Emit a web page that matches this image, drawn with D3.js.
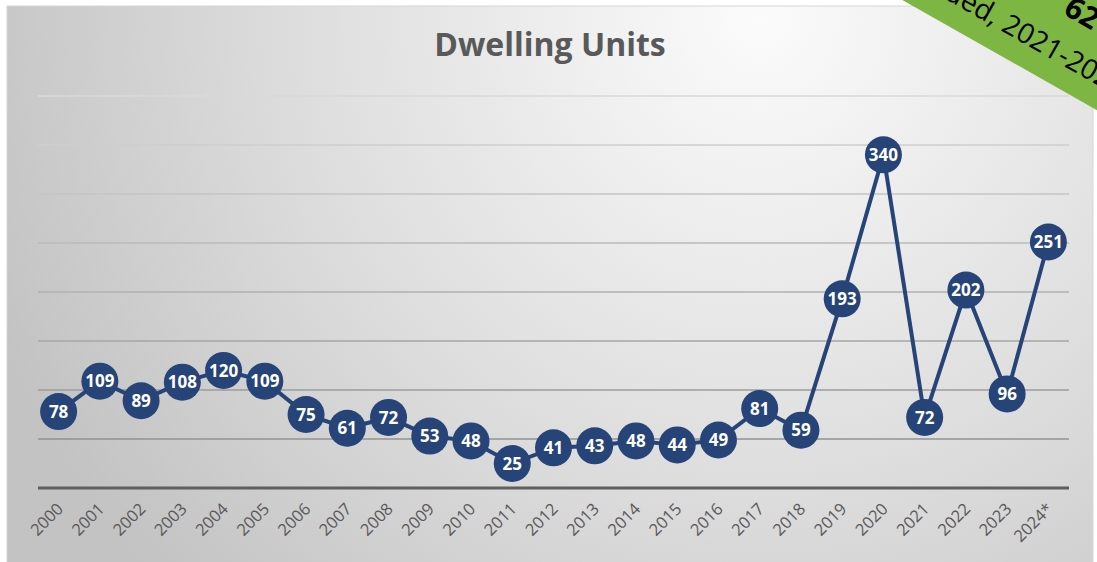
<!DOCTYPE html>
<html>
<head>
<meta charset="utf-8">
<script src="https://cdn.jsdelivr.net/npm/d3@7"></script>
<style>
  body { margin: 0; background: #fff; }
  svg { display: block; font-family: "Open Sans", sans-serif; }
</style>
</head>
<body>
<div id="chart"></div>
<script>
var years = ["2000", "2001", "2002", "2003", "2004", "2005", "2006", "2007", "2008", "2009",
    "2010", "2011", "2012", "2013", "2014", "2015", "2016", "2017", "2018", "2019",
    "2020", "2021", "2022", "2023", "2024*"];
var units = [78, 109, 89, 108, 120, 109, 75, 61, 72, 53,
    48, 25, 41, 43, 48, 44, 49, 81, 59, 193,
    340, 72, 202, 96, 251];
var gridTicks = [0, 50, 100, 150, 200, 250, 300, 350, 400];
var bannerBig = "621";
var bannerLead = "Units Added,";
var bannerRange = "2021-2024";

var width = 1097, height = 562;
var plot = { left: 38, right: 1069, top: 96, bottom: 488 };

var svg = d3.select("#chart").append("svg")
    .attr("width", width)
    .attr("height", height);

var defs = svg.append("defs");
var grad = defs.append("radialGradient")
    .attr("id", "panelGrad")
    .attr("gradientUnits", "userSpaceOnUse")
    .attr("cx", 760).attr("cy", 20).attr("r", 820);
grad.append("stop").attr("offset", "0%").attr("stop-color", "#fbfbfb");
grad.append("stop").attr("offset", "55%").attr("stop-color", "#dedede");
grad.append("stop").attr("offset", "100%").attr("stop-color", "#c3c3c3");

// chart panel
svg.append("rect")
    .attr("x", 7).attr("y", 6)
    .attr("width", 1086).attr("height", 560)
    .attr("fill", "url(#panelGrad)")
    .attr("stroke", "#d6d6d6")
    .attr("stroke-width", 1);

var x = d3.scalePoint()
    .domain(years)
    .range([plot.left, plot.right])
    .padding(0.5);

var y = d3.scaleLinear()
    .domain([0, 400])
    .range([plot.bottom, plot.top]);

// gridlines, lighter toward the top
var gridColor = d3.scaleLinear().domain([50, 400]).range(["#929292", "#d8d8d8"]);
svg.append("g").selectAll("line")
    .data(gridTicks.slice(1))
    .enter().append("line")
    .attr("x1", plot.left).attr("x2", plot.right)
    .attr("y1", function (d) { return y(d); })
    .attr("y2", function (d) { return y(d); })
    .attr("stroke", function (d) { return gridColor(d); })
    .attr("stroke-width", 1.5);

// baseline
svg.append("line")
    .attr("x1", plot.left).attr("x2", plot.right)
    .attr("y1", y(0)).attr("y2", y(0))
    .attr("stroke", "#5f5f5f")
    .attr("stroke-width", 3);

// x axis labels
var xAxis = d3.axisBottom(x).tickSize(0).tickPadding(0);
var gx = svg.append("g")
    .attr("transform", "translate(0," + y(0) + ")")
    .call(xAxis);
gx.select(".domain").remove();
gx.selectAll("text")
    .attr("fill", "#595959")
    .style("font-size", "16.5px")
    .style("font-family", "'Open Sans', sans-serif")
    .attr("text-anchor", "end")
    .attr("dy", 0)
    .attr("y", 0)
    .attr("transform", "translate(5,22) rotate(-45)");

// title
svg.append("text")
    .attr("x", 550).attr("y", 56)
    .attr("text-anchor", "middle")
    .attr("fill", "#595959")
    .style("font-size", "32px")
    .style("font-weight", "bold")
    .text("Dwelling Units");

// line
var line = d3.line()
    .x(function (d, i) { return x(years[i]); })
    .y(function (d) { return y(d); });

svg.append("path")
    .datum(units)
    .attr("d", line)
    .attr("fill", "none")
    .attr("stroke", "#264478")
    .attr("stroke-width", 4)
    .attr("stroke-linejoin", "round");

// markers with labels
var pt = svg.append("g").selectAll("g.pt")
    .data(units)
    .enter().append("g")
    .attr("class", "pt")
    .attr("transform", function (d, i) {
        return "translate(" + x(years[i]) + "," + y(d) + ")";
    });

pt.append("circle")
    .attr("r", 18.5)
    .attr("fill", "#264478");

pt.append("text")
    .attr("text-anchor", "middle")
    .attr("dy", "0.36em")
    .attr("fill", "#fff")
    .style("font-size", "17px")
    .style("font-weight", "bold")
    .text(function (d) { return d; });

// green corner banner
var banner = svg.append("g")
    .attr("transform", "translate(1000,30) rotate(29.5)");

banner.append("rect")
    .attr("x", -300).attr("y", -120)
    .attr("width", 600).attr("height", 142)
    .attr("fill", "#7db642");

banner.append("text")
    .attr("x", 46).attr("y", -45)
    .attr("fill", "#000")
    .style("font-size", "30px")
    .style("font-weight", "bold")
    .text(bannerBig);

banner.append("text")
    .attr("x", -8).attr("y", 0)
    .attr("text-anchor", "end")
    .attr("fill", "#000")
    .style("font-size", "28px")
    .text(bannerLead);

banner.append("text")
    .attr("x", 0).attr("y", 0)
    .attr("fill", "#000")
    .style("font-size", "28px")
    .text(bannerRange);
</script>
</body>
</html>
